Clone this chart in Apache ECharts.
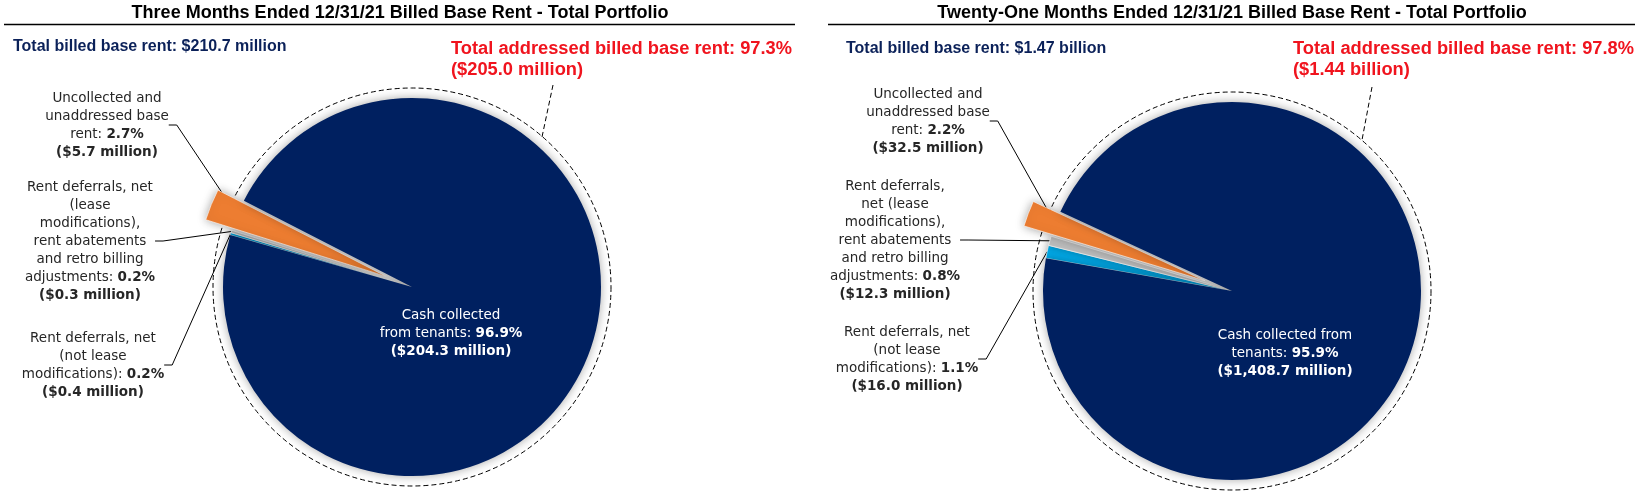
<!DOCTYPE html>
<html>
<head>
<meta charset="utf-8">
<script src="https://cdn.jsdelivr.net/npm/echarts@6/dist/echarts.min.js"></script>
<style>
html,body{margin:0;padding:0;background:#fff;}
#chart{width:1644px;height:500px;}
</style>
</head>
<body>
<div id="chart"></div>
<script>
// ---- data ----
const categories = [
  'Rent deferrals, net (not lease modifications)',
  'Rent deferrals, net (lease modifications), rent abatements and retro billing adjustments',
  'Uncollected and unaddressed base rent',
  'Cash collected from tenants'
];
const leftPct = [0.2, 0.2, 2.7, 96.9];
const leftAmt = ['$0.4 million', '$0.3 million', '$5.7 million', '$204.3 million'];
const rightPct = [1.1, 0.8, 2.2, 95.9];
const rightAmt = ['$16.0 million', '$12.3 million', '$32.5 million', '$1,408.7 million'];
const leftWrap = [
  ['Rent deferrals, net', '(not lease', 'modifications): '],
  ['Rent deferrals, net', '(lease', 'modifications),', 'rent abatements', 'and retro billing', 'adjustments: '],
  ['Uncollected and', 'unaddressed base', 'rent: '],
  ['Cash collected', 'from tenants: ']
];
const rightWrap = [
  ['Rent deferrals, net', '(not lease', 'modifications): '],
  ['Rent deferrals,', 'net (lease', 'modifications),', 'rent abatements', 'and retro billing', 'adjustments: '],
  ['Uncollected and', 'unaddressed base', 'rent: '],
  ['Cash collected from', 'tenants: ']
];
const titles = [
  'Three Months Ended 12/31/21 Billed Base Rent - Total Portfolio',
  'Twenty-One Months Ended 12/31/21 Billed Base Rent - Total Portfolio'
];
const totalBilled = ['Total billed base rent: $210.7 million', 'Total billed base rent: $1.47 billion'];
const totalAddressed = [
  ['Total addressed billed base rent: 97.3%', '($205.0 million)'],
  ['Total addressed billed base rent: 97.8%', '($1.44 billion)']
];

// ---- styles ----
const sliceColors = ['#00B0F0', '#C0C0C0', '#ED7D31', '#002060'];
const labelFont = "'DejaVu Sans', sans-serif";
const headFont = "'Liberation Sans', sans-serif";
const EXPLODED = 2;   // index of the exploded slice
const INSIDE = 3;     // index of the slice whose label sits inside

function buildPie(mode, center, radius, startAngle, pct, amt, wrap, labelPos, offset) {
  const visual = mode === 'visual';
  return {
    type: 'pie',
    z: visual ? 2 : 1,
    center: center,
    radius: radius,
    startAngle: startAngle,
    clockwise: true,
    avoidLabelOverlap: false,
    selectedMode: visual ? 'single' : false,
    selectedOffset: offset,
    animation: false,
    silent: !visual,
    emphasis: { disabled: true },
    itemStyle: visual ? { shadowBlur: 10, shadowColor: 'rgba(0,0,0,0.35)' } : { color: 'rgba(0,0,0,0)' },
    label: {
      show: true,
      position: 'outside',
      fontFamily: labelFont,
      fontSize: 13.5,
      lineHeight: 18,
      color: '#262626',
      align: 'center',
      formatter: function (p) {
        const w = wrap[p.dataIndex];
        const lines = w.slice(0, -1).map(s => '{n|' + s + '}');
        lines.push('{n|' + w[w.length - 1] + '}{b|' + pct[p.dataIndex].toFixed(1) + '%}');
        lines.push('{b|(' + amt[p.dataIndex] + ')}');
        return lines.join('\n');
      },
      rich: {
        n: { fontFamily: labelFont, fontSize: 13.5, lineHeight: 18 },
        b: { fontFamily: labelFont, fontSize: 13.5, lineHeight: 18, fontWeight: 'bold' }
      }
    },
    labelLine: {
      show: true,
      length: 10,
      length2: 8,
      lineStyle: { color: '#000', width: 1 }
    },
    labelLayout: function (params) {
      const pos = labelPos[params.dataIndex];
      return { x: pos[0], y: pos[1], align: 'center', verticalAlign: 'top' };
    },
    data: pct.map((v, i) => {
      const d = { name: categories[i], value: v };
      if (visual) {
        d.itemStyle = { color: sliceColors[i], borderColor: i === INSIDE ? sliceColors[i] : '#ffffff', borderWidth: i === INSIDE ? 0 : 0.6 };
        if (i === EXPLODED) {
          d.selected = true;
          d.label = { show: false };
          d.labelLine = { show: false };
        }
        if (i === INSIDE) {
          d.label = { color: '#ffffff' };
          d.labelLine = { show: false };
        }
      } else if (i !== EXPLODED) {
        d.label = { show: false };
        d.labelLine = { show: false };
      }
      return d;
    })
  };
}

const LC = [412, 287], RC = [1232, 291];
const pieR = 189, dashR = 199;

const leftLabelPos = [[93, 329], [90, 178], [107, 89], [451, 306]];
const rightLabelPos = [[907, 323], [895, 177], [928, 85], [1285, 326]];

function headerGraphics(idx, cx, lineX1, lineX2, billedX, billedY, addrX, addrY, leadA, leadB, center) {
  return [
    { type: 'text', x: cx, y: 13, style: { text: titles[idx], font: 'bold 18px ' + headFont, fill: '#000', align: 'center', verticalAlign: 'middle' } },
    { type: 'line', shape: { x1: lineX1, y1: 24.5, x2: lineX2, y2: 24.5 }, style: { stroke: '#000', lineWidth: 1.5 } },
    { type: 'text', x: billedX, y: billedY, style: { text: totalBilled[idx], font: 'bold 16px ' + headFont, fill: '#0B2159', align: 'left', verticalAlign: 'middle' } },
    { type: 'text', x: addrX, y: addrY, style: { text: totalAddressed[idx].join('\n'), font: 'bold 18.3px ' + headFont, lineHeight: 21, fill: '#F0141E', align: 'left', verticalAlign: 'top' } },
    { type: 'line', shape: { x1: leadA[0], y1: leadA[1], x2: leadB[0], y2: leadB[1] }, style: { stroke: '#000', lineWidth: 1, lineDash: [5, 3] } },
    { type: 'circle', z: -1, shape: { cx: center[0], cy: center[1], r: dashR }, style: { fill: 'none', stroke: '#000', lineWidth: 1, lineDash: [5, 3] } }
  ];
}

const chart = echarts.init(document.getElementById('chart'), null, { renderer: 'canvas' });
chart.setOption({
  backgroundColor: '#ffffff',
  animation: false,
  graphic: {
    elements: [].concat(
      headerGraphics(0, 400, 4, 795, 13, 47, 451, 38, [553, 85], [542, 137], LC),
      headerGraphics(1, 1232, 828, 1635, 846, 49, 1293, 38, [1372, 87], [1362, 140], RC)
    )
  },
  series: [
    buildPie('labels', LC, pieR, 164, leftPct, leftAmt, leftWrap, leftLabelPos, 28),
    buildPie('visual', LC, pieR, 164, leftPct, leftAmt, leftWrap, leftLabelPos, 28),
    buildPie('labels', RC, pieR, 170, rightPct, rightAmt, rightWrap, rightLabelPos, 29),
    buildPie('visual', RC, pieR, 170, rightPct, rightAmt, rightWrap, rightLabelPos, 29)
  ]
});
</script>
</body>
</html>
